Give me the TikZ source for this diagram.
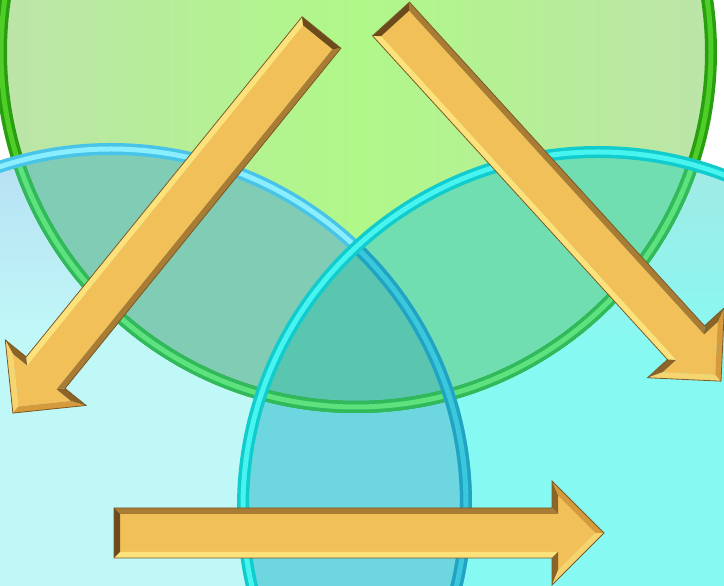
\documentclass[tikz,border=0pt]{standalone}
\usetikzlibrary{calc}

\definecolor{greenfill}{HTML}{B0F888}
\definecolor{greenside}{HTML}{BCE4A8}
\definecolor{lefttop}{HTML}{B6DEF2}
\definecolor{leftfill}{HTML}{C0F8F8}
\definecolor{righttop}{HTML}{A4E8E4}
\definecolor{rightfill}{HTML}{86FAF2}
\definecolor{glfill}{HTML}{80CCB4}
\definecolor{grfill}{HTML}{70DEB0}
\definecolor{lrfill}{HTML}{6ED6DE}
\definecolor{allfill}{HTML}{5AC6B0}
\definecolor{greenring}{HTML}{289E10}
\definecolor{greenring2}{HTML}{4ECE26}
\definecolor{greenringin}{HTML}{30BA5C}
\definecolor{greenringin2}{HTML}{5EE27E}
\definecolor{leftring}{HTML}{48C4E8}
\definecolor{leftring2}{HTML}{8AEEFF}
\definecolor{leftringin}{HTML}{20A4C2}
\definecolor{leftringin2}{HTML}{3CC8DC}
\definecolor{rightring}{HTML}{10CCCC}
\definecolor{rightring2}{HTML}{48F4F0}
\definecolor{goldmain}{HTML}{F2C058}
\definecolor{goldlight}{HTML}{FDE27C}
\definecolor{golddark}{HTML}{8C6428}
\definecolor{goldtip}{HTML}{F6D470}
\definecolor{goldside}{HTML}{D49A3C}
\definecolor{goldtop}{HTML}{A87C34}
\definecolor{goldend}{HTML}{6C4A1C}
\definecolor{goldline}{HTML}{7A5A26}

\def\rad{355pt}

\begin{document}
\begin{tikzpicture}[x=1pt, y=1pt,
    ring/.style={line width=3.5pt, double distance=5pt},
    goldarrow/.pic={
      \fill[goldmain] (6,-19) -- (444,-19) -- (444,-37.5) -- (481.5,0) -- (444,37.5) -- (444,19) -- (6,19) -- cycle;
      \fill[goldlight] (0,-25) -- (438,-25) -- (444,-19) -- (6,-19) -- cycle;
      \fill[golddark] (438,-25) -- (438,-52) -- (444,-37.5) -- (444,-19) -- cycle;
      \fill[goldtip] (438,-52) -- (490,0) -- (481.5,0) -- (444,-37.5) -- cycle;
      \fill[goldside] (490,0) -- (438,52) -- (444,37.5) -- (481.5,0) -- cycle;
      \fill[golddark] (438,52) -- (438,25) -- (444,19) -- (444,37.5) -- cycle;
      \fill[goldtop] (438,25) -- (0,25) -- (6,19) -- (444,19) -- cycle;
      \fill[goldend] (0,25) -- (0,-25) -- (6,-19) -- (6,19) -- cycle;
      \draw[goldline, line width=0.8pt] (0,-25) -- (438,-25) -- (438,-52) -- (490,0) -- (438,52) -- (438,25) -- (0,25) -- cycle;
    }]
  \useasboundingbox (0,0) rectangle (724,586);
  \clip (0,0) rectangle (724,586);
  \fill[white] (0,0) rectangle (724,586);

  \coordinate (green) at (356,534);
  \coordinate (left) at (111,82);
  \coordinate (right) at (598,79);

  % circle fills
  \shade[left color=greenside, right color=greenside, middle color=greenfill] (green) circle[radius=\rad];
  \begin{scope}
    \clip (left) circle[radius=\rad];
    \fill[leftfill] (left) circle[radius=\rad];
    \shade[top color=lefttop, bottom color=leftfill] (0,250) rectangle (470,440);
  \end{scope}
  \begin{scope}
    \clip (right) circle[radius=\rad];
    \fill[rightfill] (right) circle[radius=\rad];
    \shade[top color=righttop, bottom color=rightfill] (240,230) rectangle (724,440);
  \end{scope}

  % overlaps
  \begin{scope}
    \clip (left) circle[radius=\rad];
    \fill[lrfill] (right) circle[radius=\rad];
  \end{scope}
  \begin{scope}
    \clip (green) circle[radius=\rad];
    \fill[glfill] (left) circle[radius=\rad];
    \fill[grfill] (right) circle[radius=\rad];
    \clip (left) circle[radius=\rad];
    \fill[allfill] (right) circle[radius=\rad];
  \end{scope}

  % rings
  \draw[ring, draw=greenring, double=greenring2] (green) circle[radius=\rad];
  \foreach \c in {left, right} {
    \begin{scope}
      \clip (\c) circle[radius=\rad];
      \draw[ring, draw=greenringin, double=greenringin2] (green) circle[radius=\rad];
    \end{scope}
  }
  \draw[ring, draw=leftring, double=leftring2] (left) circle[radius=\rad];
  \begin{scope}
    \clip (right) circle[radius=\rad];
    \draw[ring, draw=leftringin, double=leftringin2] (left) circle[radius=\rad];
  \end{scope}
  \draw[ring, draw=rightring, double=rightring2] (right) circle[radius=\rad];

  % arrows
  \pic[rotate=230.96] at (321.5,553.5) {goldarrow};
  \pic[rotate=-47.66] at (391,567) {goldarrow};
  \pic at (114,53) {goldarrow};
\end{tikzpicture}
\end{document}
